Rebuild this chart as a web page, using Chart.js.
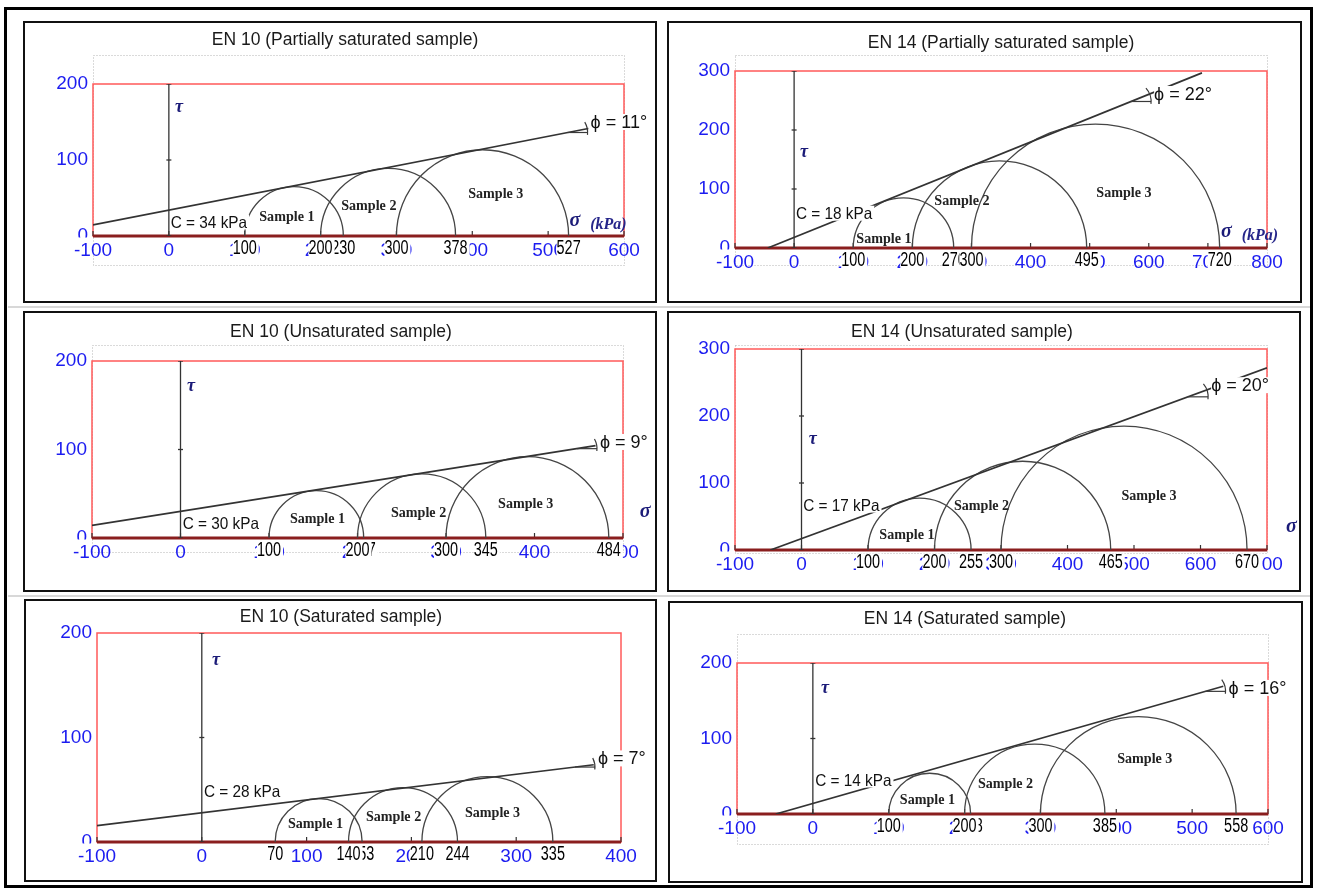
<!DOCTYPE html>
<html>
<head>
<meta charset="utf-8">
<script src="https://cdn.jsdelivr.net/npm/chart.js@4.4.1/dist/chart.umd.min.js"></script>
<style>
  body { margin: 0; background: #fff; }
  #page { position: relative; width: 1317px; height: 891px; overflow: hidden; background: #fff; }
  .frame { position: absolute; left: 4px; top: 7px; width: 1309px; height: 881px; border: 3px solid #000; box-sizing: border-box; }
  .panel { position: absolute; border: 2px solid #111; box-sizing: border-box; }
  .sep { position: absolute; height: 2px; background: #d8d8d8; }
  canvas { position: absolute; }
</style>
</head>
<body>
<div id="page">
  <div class="frame"></div>
  <div class="sep" style="left:8px;top:306px;width:1302px"></div>
  <div class="sep" style="left:8px;top:595px;width:1302px"></div>
</div>
<script>
// Mohr circles for EN 10 / EN 14, three saturation states

const titles = [
    'EN 10 (Partially saturated sample)',
    'EN 14 (Partially saturated sample)',
    'EN 10 (Unsaturated sample)',
    'EN 14 (Unsaturated sample)',
    'EN 10 (Saturated sample)',
    'EN 14 (Saturated sample)'
];
const sampleNames = ['Sample 1', 'Sample 2', 'Sample 3'];

// minor / major principal stress of each sample (kPa)
const sigma3 = [[100, 200, 300], [100, 200, 300], [100, 200, 300], [100, 200, 300], [70, 140, 210], [100, 200, 300]];
const sigma1 = [[230, 378, 527], [270, 495, 720], [207, 345, 484], [255, 465, 670], [153, 244, 335], [208, 385, 558]];

// failure envelope
const cohesion = [34, 18, 30, 17, 28, 14];
const phiDeg = [11, 22, 9, 20, 7, 16];
const envelopeEnd = [553, 690, 469, 700, 374, 541];

// axis ranges
const sigmaMin = [-100, -100, -100, -100, -100, -100];
const sigmaMax = [600, 800, 500, 700, 400, 600];
const tauMax = [200, 300, 200, 300, 200, 200];
const unitText = ['(kPa)', '(kPa)', '', '', null, null];

const BLUE = '#1c1cf0';
const RED = '#ff5a5a';
const AXIS = '#8a1e1e';
const INK = '#111';
const SANS = '"Liberation Sans", Arial, "DejaVu Sans", sans-serif';
const SERIF = '"Liberation Serif", "Times New Roman", serif';

// page layout of every panel (box and plot area in page pixels, labels in data units)
const panels = [
    { box: [23, 21, 657, 303], area: [93, 84, 624, 236], title: [322, 18], dot: [29, 29],
      cAt: [2.5, 18.4], phiAt: [556, 150], tauAt: [8, 170], sigmaAt: [528, 18.4],
      sampleAt: [[155.6, 26], [263.6, 40.8], [431, 56.6]] },
    { box: [667, 21, 1302, 303], area: [735, 71, 1267, 248], title: [334, 21], dot: [16, 17],
      cAt: [3, 59], phiAt: [609, 261], tauAt: [10, 163], sigmaAt: [722, 25.4],
      sampleAt: [[152, 17], [284, 81], [558, 95]] },
    { box: [23, 311, 657, 592], area: [92, 361, 623, 538], title: [318, 20], dot: [16, 14],
      cAt: [2.5, 17], phiAt: [474, 108.5], tauAt: [7.3, 173], sigmaAt: [519, 28],
      sampleAt: [[154.8, 22.6], [269, 29.4], [390, 39.5]] },
    { box: [667, 311, 1301, 592], area: [735, 349, 1267, 550], title: [295, 20], dot: [4, 3],
      cAt: [2.5, 67], phiAt: [616, 246], tauAt: [11, 167], sigmaAt: [728.6, 33],
      sampleAt: [[158.6, 23.9], [270.7, 67], [522.6, 82]] },
    { box: [24, 599, 657, 882], area: [97, 633, 621, 842], title: [317, 17], dot: null,
      cAt: [2, 48], phiAt: [378, 80], tauAt: [9.7, 175], sigmaAt: null,
      sampleAt: [[108.5, 18], [183, 25], [277.4, 28.7]] },
    { box: [668, 601, 1303, 883], area: [737, 663, 1268, 814], title: [297, 17], dot: [29, 30],
      cAt: [3, 45], phiAt: [548, 167], tauAt: [10.8, 168], sigmaAt: null,
      sampleAt: [[151, 20], [254, 41], [437.6, 74]] }
];

const YW = 50, XH = 30;

function seg(ctx, x1, y1, x2, y2) {
    ctx.beginPath();
    ctx.moveTo(x1, y1);
    ctx.lineTo(x2, y2);
    ctx.stroke();
}

function text(ctx, str, x, y, font, color, opts) {
    opts = opts || {};
    const sx = opts.sx || 1;
    ctx.save();
    ctx.font = font;
    ctx.textBaseline = 'middle';
    ctx.textAlign = 'left';
    const w = ctx.measureText(str).width * sx;
    const left = opts.align === 'center' ? x - w / 2 : x;
    if (opts.bg) {
        ctx.fillStyle = '#fff';
        ctx.fillRect(left, y - opts.bg / 2, w + 2, opts.bg);
    }
    ctx.translate(left, y + 1);
    ctx.scale(sx, 1);
    ctx.fillStyle = color;
    ctx.fillText(str, 0, 0);
    ctx.restore();
    return w;
}

function mohrPlugin(i) {
    const p = panels[i];
    const tanPhi = Math.tan(phiDeg[i] * Math.PI / 180);
    return {
        id: 'mohr' + i,
        beforeDraw(chart) {
            if (!p.dot) return;
            const { ctx, chartArea: a } = chart;
            ctx.save();
            ctx.strokeStyle = '#b5b5b5';
            ctx.lineWidth = 1;
            ctx.setLineDash([1, 2]);
            ctx.strokeRect(a.left + 0.5, a.top - p.dot[0] + 0.5, a.right - a.left, a.bottom - a.top + p.dot[0] + p.dot[1]);
            ctx.restore();
        },
        beforeDatasetsDraw(chart) {
            const { ctx, chartArea: a, scales: { x, y } } = chart;
            ctx.save();
            // red plot frame
            ctx.strokeStyle = RED;
            ctx.lineWidth = 1.5;
            ctx.strokeRect(a.left, a.top, a.right - a.left, a.bottom - a.top);
            // small ticks on the sigma axis
            ctx.strokeStyle = '#333';
            ctx.lineWidth = 1.2;
            x.ticks.forEach(t => {
                const px = x.getPixelForValue(t.value);
                seg(ctx, px, a.bottom, px, a.bottom - 5);
            });
            // sigma axis
            ctx.strokeStyle = AXIS;
            ctx.lineWidth = 3;
            seg(ctx, a.left, a.bottom, a.right, a.bottom);
            // Mohr circles
            ctx.strokeStyle = '#454545';
            ctx.lineWidth = 1.3;
            sigma3[i].forEach((s3, k) => {
                const s1 = sigma1[i][k];
                const c = (s1 + s3) / 2, r = (s1 - s3) / 2;
                const cx = x.getPixelForValue(c), cy = y.getPixelForValue(0);
                const rx = x.getPixelForValue(c + r) - cx;
                const ry = cy - y.getPixelForValue(r);
                ctx.beginPath();
                ctx.ellipse(cx, cy, rx, ry, 0, Math.PI, 2 * Math.PI);
                ctx.stroke();
            });
            ctx.restore();
        },
        afterDatasetsDraw(chart) {
            const { ctx, chartArea: a, scales: { x, y } } = chart;
            const px = v => x.getPixelForValue(v);
            const py = v => y.getPixelForValue(v);

            // title
            text(ctx, titles[i], p.title[0], p.title[1], '17.5px ' + SANS, '#1a1a1a', { align: 'center' });

            // axis names
            text(ctx, 'τ', px(p.tauAt[0]), py(p.tauAt[1]), 'italic bold 18px ' + SERIF, '#1b1b78');
            if (p.sigmaAt) {
                const sx = px(p.sigmaAt[0]), sy = py(p.sigmaAt[1]);
                const w = text(ctx, 'σ', sx, sy - 2, 'italic bold 20px ' + SERIF, '#1b1b78');
                if (unitText[i]) text(ctx, unitText[i], sx + w + 10, sy + 2, 'italic bold 16px ' + SERIF, '#26268a');
            }

            // sample names
            sampleNames.forEach((s, k) => {
                text(ctx, s, px(p.sampleAt[k][0]), py(p.sampleAt[k][1]), 'bold 15px ' + SERIF, '#222', { align: 'center', sx: 0.94 });
            });

            // cohesion label
            text(ctx, 'C = ' + cohesion[i] + ' kPa', px(p.cAt[0]), py(p.cAt[1]), '16.5px ' + SANS, INK, { sx: 0.93, bg: 15 });

            // friction angle marker and label
            const lx = px(p.phiAt[0]), ly = py(p.phiAt[1]);
            const L = 20;
            const vx = lx - 3 - L;
            const vs = x.getValueForPixel(vx);
            const vy = py(cohesion[i] + vs * tanPhi);
            const ang = Math.atan(tanPhi * (py(0) - py(1)) / (px(1) - px(0)));
            ctx.save();
            ctx.strokeStyle = '#3a3a3a';
            ctx.lineWidth = 1.2;
            seg(ctx, vx, vy, vx + L, vy);
            ctx.beginPath();
            ctx.arc(vx, vy, L, -ang - 0.35, 0.12);
            ctx.stroke();
            ctx.restore();
            text(ctx, 'ϕ = ' + phiDeg[i] + '°', lx, ly, '18px ' + SANS, INK, { bg: 16 });

            // principal stress values under the axis
            const vy0 = a.bottom + 12;
            sigma1[i].concat(sigma3[i]).forEach(v => {
                text(ctx, String(v), px(v), vy0, '19.5px ' + SANS, '#000', { align: 'center', sx: 0.74, bg: 17 });
            });

            // axis line hides the lower half of the "0" tick label
            ctx.fillStyle = '#fff';
            ctx.fillRect(a.left - 24, a.bottom + 1.5, 20, 4);
        }
    };
}

function makePanel(i) {
    const page = document.getElementById('page');
    const p = panels[i];
    const [pl, pt, pr, pb] = p.box;
    const [cl, ct, cr, cb] = p.area;
    const W = pr - pl, H = pb - pt;

    const canvas = document.createElement('canvas');
    canvas.width = W;
    canvas.height = H;
    canvas.style.left = pl + 'px';
    canvas.style.top = pt + 'px';
    canvas.style.width = W + 'px';
    canvas.style.height = H + 'px';
    page.appendChild(canvas);

    const border = document.createElement('div');
    border.className = 'panel';
    border.style.left = pl + 'px';
    border.style.top = pt + 'px';
    border.style.width = W + 'px';
    border.style.height = H + 'px';
    page.appendChild(border);

    const tanPhi = Math.tan(phiDeg[i] * Math.PI / 180);
    const x0 = Math.max(sigmaMin[i], -cohesion[i] / tanPhi);
    const x1 = envelopeEnd[i];
    const tauAxis = [];
    for (let v = 0; v <= tauMax[i]; v += 100) tauAxis.push({ x: 0, y: v });

    const tickFont = { family: SANS, size: 19 };

    return new Chart(canvas, {
        type: 'scatter',
        data: {
            datasets: [{
                label: 'Failure envelope',
                type: 'line',
                data: [{ x: x0, y: cohesion[i] + x0 * tanPhi }, { x: x1, y: cohesion[i] + x1 * tanPhi }],
                borderColor: '#333',
                borderWidth: 1.7,
                pointRadius: 0
            }, {
                label: 'τ axis',
                type: 'line',
                data: tauAxis,
                borderColor: '#333',
                borderWidth: 1.3,
                pointStyle: 'line',
                pointRadius: 2.5,
                pointBorderColor: '#333',
                pointBorderWidth: 1.3
            }]
        },
        options: {
            responsive: false,
            animation: false,
            devicePixelRatio: 1,
            layout: {
                padding: {
                    left: cl - pl - YW,
                    top: ct - pt,
                    right: pr - cr,
                    bottom: pb - cb - XH
                }
            },
            plugins: {
                legend: { display: false },
                tooltip: { enabled: false }
            },
            scales: {
                x: {
                    type: 'linear',
                    min: sigmaMin[i],
                    max: sigmaMax[i],
                    grid: { display: false, drawTicks: false },
                    border: { display: false },
                    ticks: { stepSize: 100, autoSkip: false, maxRotation: 0, color: BLUE, font: tickFont, padding: 3 },
                    afterFit: s => { s.height = XH; }
                },
                y: {
                    type: 'linear',
                    min: 0,
                    max: tauMax[i],
                    grid: { display: false, drawTicks: false },
                    border: { display: false },
                    ticks: { stepSize: 100, color: BLUE, font: tickFont, padding: 5 },
                    afterFit: s => { s.width = YW; }
                }
            }
        },
        plugins: [mohrPlugin(i)]
    });
}

titles.forEach((t, i) => makePanel(i));
</script>
</body>
</html>
